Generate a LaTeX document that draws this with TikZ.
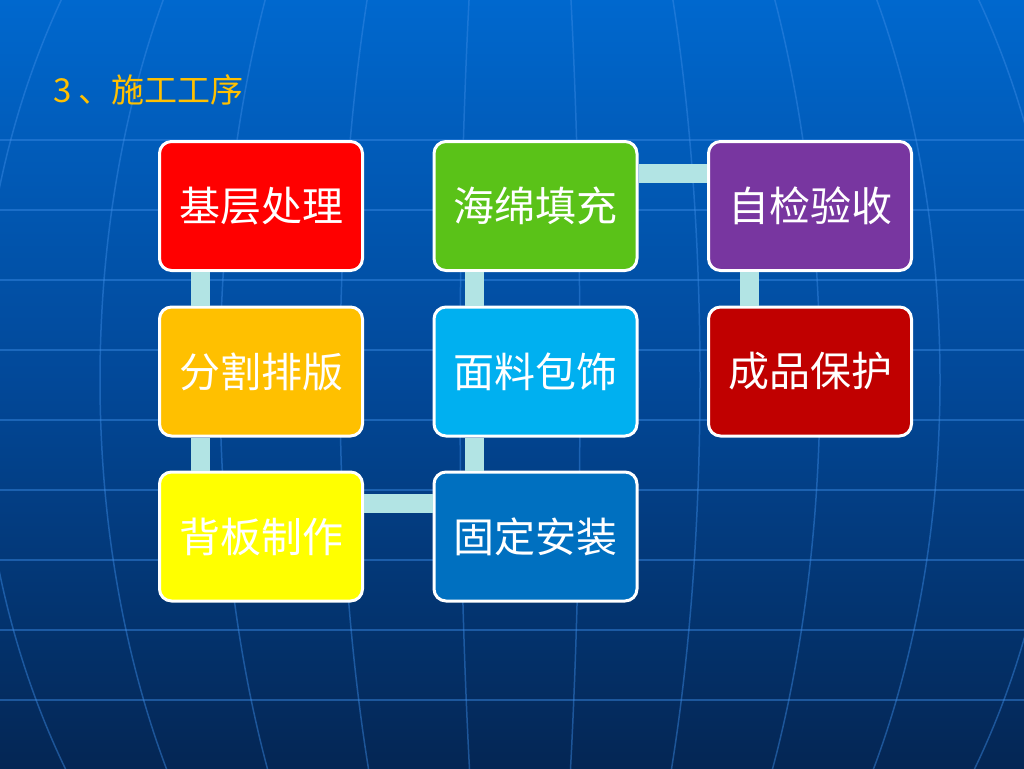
\documentclass[tikz,border=0pt]{standalone}
\usepackage{fontspec}
\setmainfont{Noto Sans CJK SC}
\usepackage{tikz}
\definecolor{BgTop}{RGB}{0,104,206}
\definecolor{BgMid}{RGB}{2,72,152}
\definecolor{BgBot}{RGB}{4,38,84}
\definecolor{GridLine}{RGB}{60,140,230}
\definecolor{Link}{RGB}{178,228,228}
\definecolor{Title}{RGB}{255,192,0}
\definecolor{StepRed}{RGB}{255,0,0}
\definecolor{StepOrange}{RGB}{255,192,0}
\definecolor{StepYellow}{RGB}{255,255,0}
\definecolor{StepBlue}{RGB}{0,112,192}
\definecolor{StepCyan}{RGB}{0,176,240}
\definecolor{StepGreen}{RGB}{90,194,24}
\definecolor{StepPurple}{RGB}{120,54,160}
\definecolor{StepDark}{RGB}{192,0,0}

\begin{document}
\begin{tikzpicture}[
    x = 1pt, y = -1pt,
    B/.style = {draw=white, line width=3pt, rounded corners=12pt, minimum width=203pt,
                minimum height=129pt, inner sep=0pt, text=white,
                font=\fontsize{41pt}{41pt}\selectfont},
    G/.style = {GridLine, line width=1.5pt, opacity=0.45}
    ]
    \useasboundingbox (0,0) rectangle (1024,768);
    \shade[top color=BgTop, bottom color=BgBot, middle color=BgMid] (0,0) rectangle (1024,768);
    \begin{scope}
        \clip (0,0) rectangle (1024,768);
        \foreach \y in {140,210,...,700}
            \draw[G] (0,\y) -- (1024,\y);
        \foreach \a in {60,180,...,900}
            \draw[G] (520,380) ellipse [x radius=\a, y radius=720];
    \end{scope}
    \node[text=Title, anchor=west, inner sep=0pt, font=\fontsize{33pt}{33pt}\selectfont]
        (title) at (53,90) {3 、施工工序};
    \begin{scope}[nodes=B]
        \node[fill=StepRed] (s1) at (261,206) {基层处理};
        \node[fill=StepOrange] (s2) at (261,371.5) {分割排版};
        \node[fill=StepYellow] (s3) at (261,536.5) {背板制作};
        \node[fill=StepBlue] (s4) at (535.5,536.5) {固定安装};
        \node[fill=StepCyan] (s5) at (535.5,371.5) {面料包饰};
        \node[fill=StepGreen] (s6) at (535.5,206) {海绵填充};
        \node[fill=StepPurple] (s7) at (810,206) {自检验收};
        \node[fill=StepDark] (s8) at (810,371.5) {成品保护};
    \end{scope}
    \begin{scope}[line width=19pt, Link]
        \draw ([xshift=-61pt]s1.south) -- ([xshift=-61pt]s2.north);
        \draw ([xshift=-61pt]s2.south) -- ([xshift=-61pt]s3.north);
        \draw ([yshift=33pt]s3.east) -- ([yshift=33pt]s4.west);
        \draw ([xshift=-61pt]s4.north) -- ([xshift=-61pt]s5.south);
        \draw ([xshift=-61pt]s5.north) -- ([xshift=-61pt]s6.south);
        \draw ([yshift=33pt]s6.east) -- ([yshift=33pt]s7.west);
        \draw ([xshift=-61pt]s7.south) -- ([xshift=-61pt]s8.north);
    \end{scope}
\end{tikzpicture}
\end{document}
